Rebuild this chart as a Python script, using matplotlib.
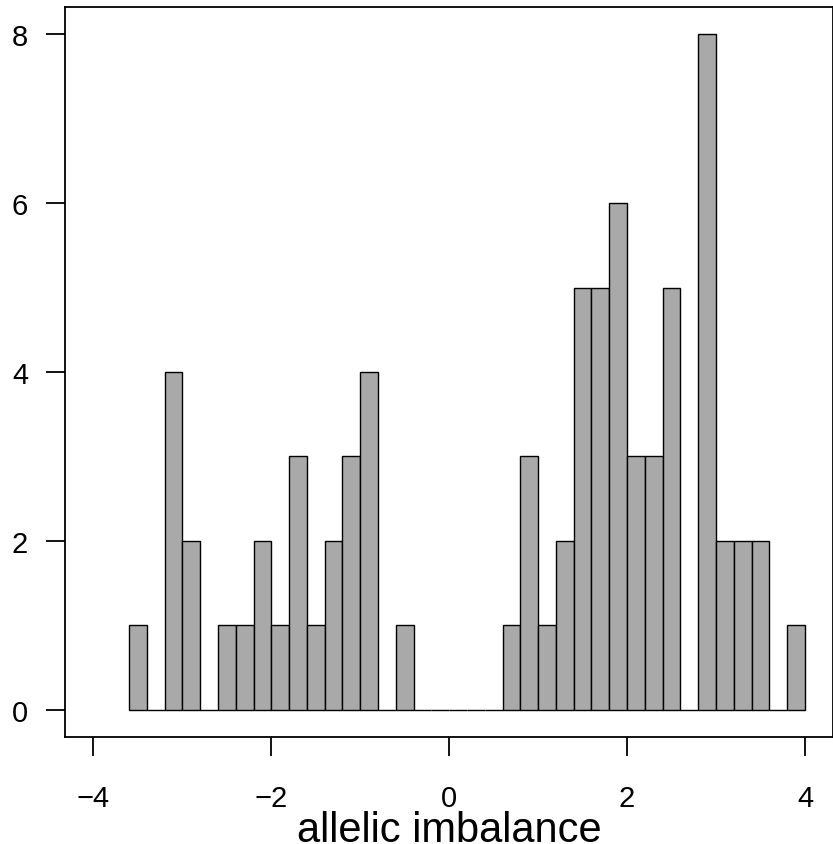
import numpy as np
import matplotlib
matplotlib.use("Agg")
import matplotlib.pyplot as plt

# histogram of allelic imbalance, 0.2-wide bins from -3.6 to 4.0
bin_edges = np.round(np.arange(-3.6, 4.0001, 0.2), 1)
counts = [1, 0, 4, 2, 0, 1, 1, 2, 1, 3, 1, 2, 3, 4, 0, 1,
          0, 0, 0, 0, 0,
          1, 3, 1, 2, 5, 5, 6, 3, 3, 5, 0, 8, 2, 2, 2, 0, 1]
x_ticks = [-4, -2, 0, 2, 4]
y_ticks = [0, 2, 4, 6, 8]
xlabel = "allelic imbalance"

plt.rcParams["font.family"] = ["Liberation Sans", "DejaVu Sans"]

fig = plt.figure(figsize=(8.33, 8.45), dpi=100)
ax = fig.add_axes([65 / 833, 107 / 845, 768.4 / 833, 730 / 845])

ax.bar(bin_edges[:-1], counts, width=np.diff(bin_edges), align="edge",
       color="#a9a9a9", edgecolor="black", linewidth=1.0)

ax.set_xlim(-4.32, 4.32)
ax.set_ylim(-0.32, 8.32)
ax.set_xticks(x_ticks)
ax.set_yticks(y_ticks)
ax.tick_params(axis="both", direction="out", length=13.5, width=1.3,
               labelsize=21)
ax.tick_params(axis="x", pad=20)
ax.tick_params(axis="y", pad=13)
for s in ax.spines.values():
    s.set_linewidth(1.3)

fig.text(449 / 833, 3 / 845, xlabel, ha="center", va="baseline", fontsize=30)

fig.savefig("out.png", dpi=100)
